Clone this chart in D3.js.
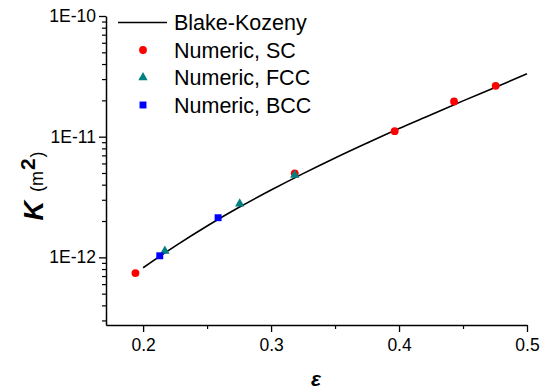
<!DOCTYPE html>
<html>
<head>
<meta charset="utf-8">
<script src="https://cdn.jsdelivr.net/npm/d3@7"></script>
<style>
  body { margin: 0; background: #fff; }
  svg { display: block; }
  text { font-family: "Liberation Sans", Arial, sans-serif; }
</style>
</head>
<body>
<div id="chart"></div>
<script>
// Blake-Kozeny curve
var bkEps = [0.2, 0.225, 0.25, 0.275, 0.3, 0.325, 0.35, 0.375, 0.4, 0.425, 0.45, 0.475, 0.5];
var bkK = [8.2e-13, 1.24e-12, 1.82e-12, 2.6e-12, 3.61e-12, 4.94e-12, 6.66e-12, 8.86e-12, 1.17e-11, 1.52e-11, 1.98e-11, 2.56e-11, 3.32e-11];

// numeric results
var scEps = [0.194, 0.3185, 0.3966, 0.443, 0.4755];
var scK = [7.4e-13, 4.97e-12, 1.11e-11, 1.96e-11, 2.64e-11];
var fccEps = [0.217, 0.2755, 0.3185];
var fccK = [1.13e-12, 2.78e-12, 4.8e-12];
var bccEps = [0.213, 0.2586];
var bccK = [1.03e-12, 2.13e-12];

var xTicks = [0.2, 0.3, 0.4, 0.5];
var xMinor = [0.25, 0.35, 0.45];
var yTicks = [1e-12, 1e-11, 1e-10];
var yTickLabels = ["1E-12", "1E-11", "1E-10"];

var W = 542, H = 389;
var svg = d3.select("#chart").append("svg")
    .attr("width", W)
    .attr("height", H);

var x = d3.scaleLinear().domain([0.171, 0.5]).range([106, 527]);
var y = d3.scaleLog().domain([2.75e-13, 1e-10]).range([325, 16]);

// minor y ticks: 2..9 in each decade inside the domain
var yMinor = [];
[-13, -12, -11].forEach(function(e) {
  for (var m = 2; m <= 9; m++) {
    var v = m * Math.pow(10, e);
    if (v >= y.domain()[0] && v <= y.domain()[1]) yMinor.push(v);
  }
});

// y axis
var yAxisG = svg.append("g")
    .attr("transform", "translate(" + x.range()[0] + ",0)")
    .call(d3.axisLeft(y).tickValues(yTicks).tickSize(7).tickSizeOuter(0)
      .tickFormat(function(d, i) { return yTickLabels[i]; }));
yAxisG.select(".domain").attr("stroke-width", 1.5);
yAxisG.selectAll(".tick line").attr("stroke-width", 1.3);
yAxisG.selectAll(".tick text").attr("font-size", "17.5px").attr("fill", "#000").attr("x", -10);

var yMinorG = svg.append("g")
    .attr("transform", "translate(" + x.range()[0] + ",0)")
    .call(d3.axisLeft(y).tickValues(yMinor).tickSize(4).tickSizeOuter(0).tickFormat(""));
yMinorG.select(".domain").remove();
yMinorG.selectAll(".tick line").attr("stroke-width", 1.2);

// x axis
var xAxisG = svg.append("g")
    .attr("transform", "translate(0," + y.range()[0] + ")")
    .call(d3.axisBottom(x).tickValues(xTicks).tickSize(7).tickSizeOuter(0)
      .tickFormat(d3.format(".1f")));
xAxisG.select(".domain").attr("stroke-width", 1.5);
xAxisG.selectAll(".tick line").attr("stroke-width", 1.3);
xAxisG.selectAll(".tick text").attr("font-size", "17.5px").attr("fill", "#000").attr("y", 14);

var xMinorG = svg.append("g")
    .attr("transform", "translate(0," + y.range()[0] + ")")
    .call(d3.axisBottom(x).tickValues(xMinor).tickSize(4).tickSizeOuter(0).tickFormat(""));
xMinorG.select(".domain").remove();
xMinorG.selectAll(".tick line").attr("stroke-width", 1.2);

// Blake-Kozeny line
var line = d3.line()
    .x(function(d, i) { return x(bkEps[i]); })
    .y(function(d) { return y(d); })
    .curve(d3.curveMonotoneX);

svg.append("path")
    .datum(bkK)
    .attr("d", line)
    .attr("fill", "none")
    .attr("stroke", "#000")
    .attr("stroke-width", 1.6);

function drawSeries(xs, ys, symbol, size, color) {
  svg.append("g").selectAll("path")
    .data(ys)
    .enter()
    .append("path")
    .attr("d", d3.symbol().type(symbol).size(size))
    .attr("transform", function(d, i) { return "translate(" + x(xs[i]) + "," + y(d) + ")"; })
    .attr("fill", color);
}

drawSeries(scEps, scK, d3.symbolCircle, 48, "#ff0000");
drawSeries(fccEps, fccK, d3.symbolTriangle, 38, "#008080");
drawSeries(bccEps, bccK, d3.symbolSquare, 48, "#0000ff");

// legend
var legend = svg.append("g");
var legX = 174, legY = [22.5, 50, 77.5, 105];
var legNames = ["Blake-Kozeny", "Numeric, SC", "Numeric, FCC", "Numeric, BCC"];

legend.append("line")
    .attr("x1", 118).attr("x2", 167)
    .attr("y1", legY[0]).attr("y2", legY[0])
    .attr("stroke", "#000").attr("stroke-width", 1.6);

var legSym = [d3.symbolCircle, d3.symbolTriangle, d3.symbolSquare];
var legCol = ["#ff0000", "#008080", "#0000ff"];
var legSize = [48, 38, 48];
legSym.forEach(function(s, i) {
  legend.append("path")
    .attr("d", d3.symbol().type(s).size(legSize[i]))
    .attr("transform", "translate(143," + legY[i + 1] + ")")
    .attr("fill", legCol[i]);
});

legNames.forEach(function(n, i) {
  legend.append("text")
    .attr("x", legX)
    .attr("y", legY[i])
    .attr("dy", "0.35em")
    .attr("font-size", "21.5px")
    .attr("fill", "#000")
    .text(n);
});

// axis titles
var yTitle = svg.append("text")
    .attr("transform", "translate(43,186) rotate(-90)")
    .attr("text-anchor", "middle")
    .attr("fill", "#000");
yTitle.append("tspan")
    .attr("font-size", "27px").attr("font-weight", "bold").attr("font-style", "italic")
    .text("K");
yTitle.append("tspan")
    .attr("font-size", "18px").attr("dx", 9)
    .text("(m");
yTitle.append("tspan")
    .attr("font-size", "21px").attr("font-weight", "bold").attr("dy", -8).attr("dx", 1)
    .text("2");
yTitle.append("tspan")
    .attr("font-size", "18px").attr("dy", 8).attr("dx", 1)
    .text(")");

svg.append("text")
    .attr("x", 316)
    .attr("y", 386)
    .attr("text-anchor", "middle")
    .attr("font-size", "21px")
    .attr("font-weight", "bold")
    .attr("font-style", "italic")
    .attr("fill", "#000")
    .text("ε");
</script>
</body>
</html>
